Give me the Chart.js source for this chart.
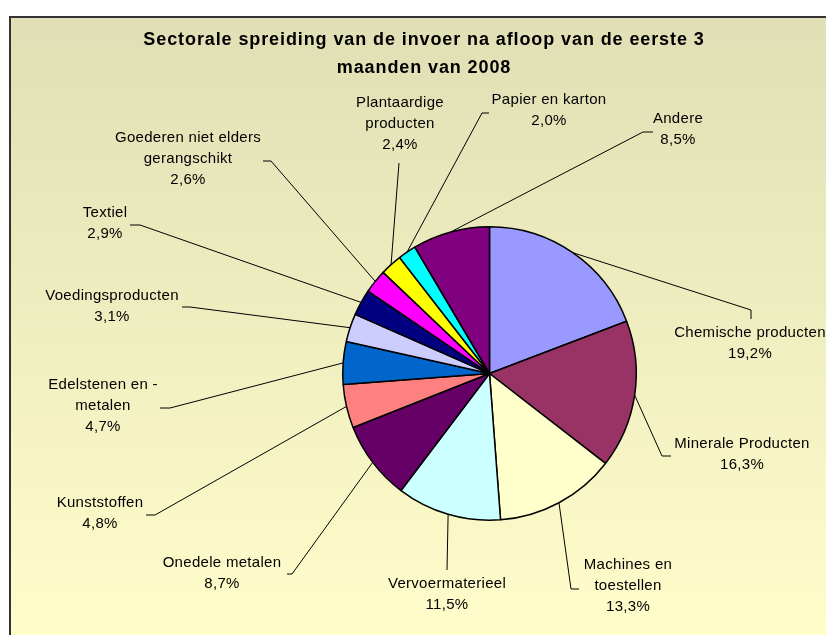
<!DOCTYPE html>
<html>
<head>
<meta charset="utf-8">
<script src="https://cdn.jsdelivr.net/npm/chart.js@4"></script>
<style>
html,body{margin:0;padding:0;background:#fff;}
canvas{display:block;}
</style>
</head>
<body>
<canvas id="c" width="826" height="635"></canvas>
<script>
// ---- data ----
const categories = [
  ['Chemische producten'],
  ['Minerale Producten'],
  ['Machines en', 'toestellen'],
  ['Vervoermaterieel'],
  ['Onedele metalen'],
  ['Kunststoffen'],
  ['Edelstenen en -', 'metalen'],
  ['Voedingsproducten'],
  ['Textiel'],
  ['Goederen niet elders', 'gerangschikt'],
  ['Plantaardige', 'producten'],
  ['Papier en karton'],
  ['Andere']
];
const shares = [19.2, 16.3, 13.3, 11.5, 8.7, 4.8, 4.7, 3.1, 2.9, 2.6, 2.4, 2.0, 8.5];
const titleLines = ['Sectorale spreiding van de invoer na afloop van de eerste 3', 'maanden van 2008'];

// ---- styles / layout ----
const sliceColors = ['#9999FF','#993366','#FFFFCC','#CCFFFF','#660066','#FF8080','#0066CC','#CCCCFF','#000080','#FF00FF','#FFFF00','#00FFFF','#800080'];
// label annotation layout: [textCenterX, firstLineY, elbowX, elbowY, endX, endY]
const labelLayout = [
  [750, 333, 751, 310, 751, 319],
  [742, 444, 662, 456, 671, 456],
  [628, 565, 571, 589, 579, 589],
  [447, 584, 447, 570, 447, 570],
  [222, 563, 292, 574, 287, 574],
  [100, 503, 155, 515, 146, 515],
  [103, 385, 170, 408, 160, 408],
  [112, 296, 190, 307, 182, 307],
  [105, 213, 140, 225, 130, 225],
  [188, 138, 271, 161, 263, 161],
  [400, 103, 399, 163, 399, 163],
  [549, 100, 482, 113, 489, 113],
  [678, 119, 643, 132, 653, 132]
];
const LABEL_FONT = "15px 'Liberation Sans'";
const LINE_H = 21;

const decor = {
  id: 'decor',
  beforeDraw(chart) {
    const ctx = chart.ctx;
    ctx.save();
    ctx.fillStyle = '#fff';
    ctx.fillRect(0, 0, 826, 635);
    const g = ctx.createLinearGradient(0, 17, 0, 635);
    g.addColorStop(0, '#E0DFB5');
    g.addColorStop(1, '#FFFDCA');
    ctx.fillStyle = g;
    ctx.fillRect(10, 17, 826, 635);
    ctx.fillStyle = '#333';
    ctx.fillRect(9, 16, 2, 635);
    ctx.fillRect(9, 16, 826, 2);
    ctx.restore();
  },
  afterDraw(chart) {
    const ctx = chart.ctx;
    ctx.save();
    ctx.fillStyle = '#000';
    ctx.textAlign = 'center';
    ctx.textBaseline = 'middle';
    ctx.font = "bold 18px 'Liberation Sans'";
    ctx.letterSpacing = '0.9px';
    titleLines.forEach((t, i) => ctx.fillText(t, 424, 40 + i * 28));
    const meta = chart.getDatasetMeta(0);
    ctx.strokeStyle = '#000';
    ctx.lineWidth = 1;
    ctx.font = LABEL_FONT;
    ctx.letterSpacing = '0.3px';
    meta.data.forEach((arc, i) => {
      const p = arc.getProps(['x','y','startAngle','endAngle','outerRadius'], true);
      const mid = (p.startAngle + p.endAngle) / 2;
      const sx = p.x + Math.cos(mid) * p.outerRadius;
      const sy = p.y + Math.sin(mid) * p.outerRadius;
      const L = labelLayout[i];
      ctx.beginPath();
      ctx.moveTo(sx, sy);
      ctx.lineTo(L[2], L[3]);
      ctx.lineTo(L[4], L[5]);
      ctx.stroke();
      const lines = categories[i].concat([shares[i].toFixed(1).replace('.', ',') + '%']);
      lines.forEach((t, k) => ctx.fillText(t, L[0], L[1] + k * LINE_H));
    });
    ctx.restore();
  }
};

new Chart(document.getElementById('c'), {
  type: 'pie',
  data: {
    labels: categories,
    datasets: [{
      data: shares,
      backgroundColor: sliceColors,
      borderColor: '#000',
      borderWidth: 1.5,
      hoverOffset: 0
    }]
  },
  options: {
    responsive: false,
    animation: false,
    devicePixelRatio: 1,
    layout: { padding: { left: 342, right: 189, top: 226, bottom: 114 } },
    plugins: { legend: { display: false }, tooltip: { enabled: false }, title: { display: false } }
  },
  plugins: [decor]
});
</script>
</body>
</html>
